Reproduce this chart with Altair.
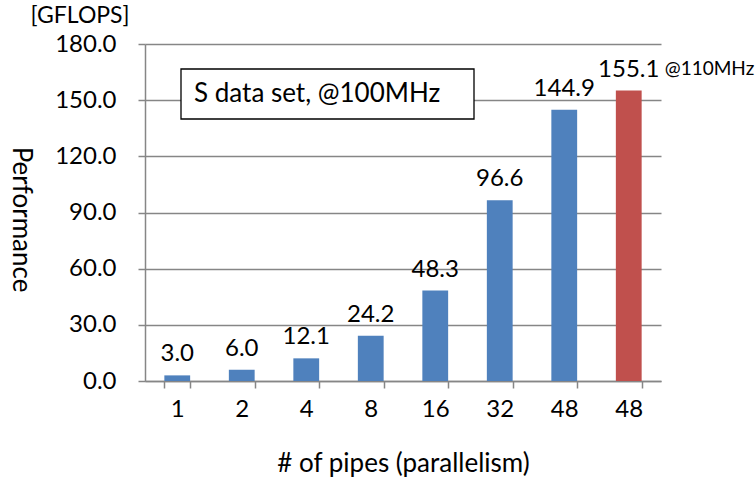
import altair as alt
import pandas as pd

# ---- data ----
categories = ["1", "2", "4", "8", "16", "32", "48", "48 @110MHz"]
tick_labels = ["1", "2", "4", "8", "16", "32", "48", "48"]
values = [3.0, 6.0, 12.1, 24.2, 48.3, 96.6, 144.9, 155.1]
clock = ["100MHz"] * 7 + ["110MHz"]
notes = [""] * 7 + ["@110MHz"]
y_ticks = [0, 30, 60, 90, 120, 150, 180]
box_text = ["S data set, @100MHz"]
unit_text = ["[GFLOPS]"]
x_title = "# of pipes (parallelism)"
y_title = "Performance"

df = pd.DataFrame({"cat": categories, "val": values, "clock": clock, "note": notes})

# label expression mapping unique keys to displayed tick labels
expr = "datum.value"
for c, t in zip(categories, tick_labels):
    if c != t:
        expr = f"datum.value == '{c}' ? '{t}' : ({expr})"

FONT = "Lato"
W, H = 516, 337
GRAY = "#868686"
LBL = 24

x_enc = alt.X(
    "cat:N",
    sort=categories,
    scale=alt.Scale(paddingInner=0.6, paddingOuter=0.3),
    axis=alt.Axis(
        title=x_title,
        labelExpr=expr,
        labelAngle=0,
        labelFontSize=LBL,
        labelFont=FONT,
        labelColor="black",
        labelPadding=9,
        tickBand="extent",
        tickSize=7,
        tickColor=GRAY,
        domainColor=GRAY,
        domainWidth=1.5,
        tickWidth=1.5,
        titleFont=FONT,
        titleFontSize=26,
        titleFontWeight="normal",
        titleColor="black",
        titleY=82,
        titleBaseline="middle",
        grid=False,
    ),
)

y_enc = alt.Y(
    "val:Q",
    scale=alt.Scale(domain=[0, 180], nice=False),
    axis=alt.Axis(
        title=y_title,
        values=y_ticks,
        format=".1f",
        labelFontSize=LBL,
        labelFont=FONT,
        labelColor="black",
        labelPadding=22,
        tickSize=7,
        tickColor=GRAY,
        tickWidth=1.5,
        domainColor=GRAY,
        domainWidth=1.5,
        grid=True,
        gridColor=GRAY,
        gridWidth=1.3,
        titleFont=FONT,
        titleFontSize=26,
        titleFontWeight="normal",
        titleColor="black",
        titleAngle=90,
        titleX=-125,
        titleY=175,
        titleBaseline="middle",
        titleAlign="center",
    ),
)

base = alt.Chart(df)

bars = base.mark_bar().encode(
    x=x_enc,
    y=y_enc,
    color=alt.Color(
        "clock:N",
        scale=alt.Scale(domain=["100MHz", "110MHz"], range=["#4F81BD", "#C0504D"]),
        legend=None,
    ),
)

labels = base.mark_text(
    baseline="bottom", dy=-9, fontSize=LBL, font=FONT, color="black"
).encode(
    x=alt.X("cat:N", sort=categories),
    y=alt.Y("val:Q"),
    text=alt.Text("val:Q", format=".1f"),
)

note_marks = base.mark_text(
    baseline="bottom", align="left", dx=36, dy=-12, fontSize=19, font=FONT, color="black"
).encode(
    x=alt.X("cat:N", sort=categories),
    y=alt.Y("val:Q"),
    text="note:N",
)

box_df = pd.DataFrame({"t": box_text})
box_rect = alt.Chart(box_df).mark_rect(
    fill="white", stroke="black", strokeWidth=1.3
).encode(
    x=alt.value(36), x2=alt.value(329), y=alt.value(25), y2=alt.value(75)
)
box_label = alt.Chart(box_df).mark_text(
    align="left", baseline="middle", fontSize=26, font=FONT, color="black"
).encode(x=alt.value(49), y=alt.value(50), text="t:N")

unit_df = pd.DataFrame({"t": unit_text})
unit_label = alt.Chart(unit_df).mark_text(
    align="center", baseline="middle", fontSize=23, font=FONT, color="black"
).encode(x=alt.value(-65), y=alt.value(-28), text="t:N")

chart = (
    alt.layer(bars, labels, note_marks, box_rect, box_label, unit_label)
    .properties(
        width=W,
        height=H,
        padding={"left": 145, "top": 44, "right": 95, "bottom": 99},
        autosize=alt.AutoSizeParams(type="none"),
        background="white",
    )
    .configure_view(stroke=None)
)

chart.save("out.html", embed_options={"renderer": "svg", "actions": False})
